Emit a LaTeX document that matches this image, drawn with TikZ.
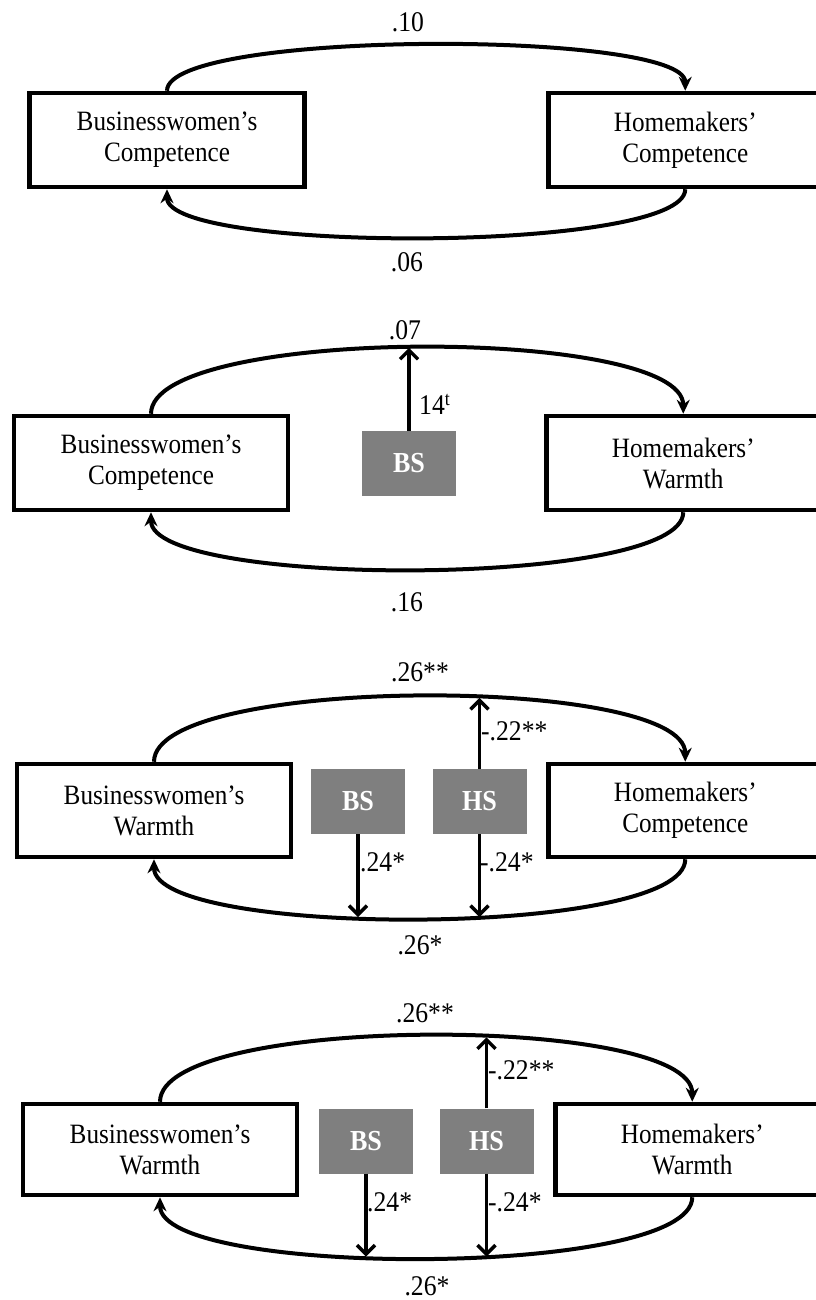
\documentclass[tikz,border=0pt]{standalone}
\usepackage{fontspec}
\setmainfont{Liberation Serif}[FakeStretch = 0.9]
\usepackage{xcolor}
\usepackage{tikz}
\usetikzlibrary{arrows.meta}

\definecolor{sxgray}{HTML}{7F7F7F}
\tikzset{
    trait/.style = {draw, line width = 4.5pt, minimum width = 274pt, minimum height = 93pt,
        inner sep = 0pt, align = center, font = \fontsize{28}{31}\selectfont},
    sexism/.style = {fill = sxgray, text = white, minimum width = 94pt, minimum height = 65pt,
        inner sep = 0pt, font = \fontsize{29}{32}\selectfont\bfseries},
    coef/.style = {inner sep = 0pt, font = \fontsize{28.5}{30}\selectfont},
    loop arc/.style = {line width = 4pt, -{Stealth[length = 14pt, width = 13pt]}},
    effect/.style = {line width = 3.5pt, -{Straight Barb[length = 9pt, width = 18pt]}}
}

\begin{document}
\begin{tikzpicture}[x = 1pt, y = -1pt]
        \useasboundingbox (0, 0) rectangle (815, 1300);

        \node[trait, minimum width = 275pt, minimum height = 94pt] (bc1) at (167, 140) {Businesswomen’s\\Competence};
        \node[trait, minimum height = 94pt, anchor = west] (hc1) at (546, 140) {Homemakers’\\Competence};
        \draw[loop arc] (bc1.north) .. controls +(0, -61) and +(0, -61) .. (hc1.north);
        \draw[loop arc] (hc1.south) .. controls +(0, 64) and +(0, 64) .. (bc1.south);
        \node[coef] (k1a) at (408, 22) {.10};
        \node[coef] (k1b) at (407, 262) {.06};

        \node[trait, minimum height = 94pt] (bc2) at (151, 463) {Businesswomen’s\\Competence};
        \node[trait, minimum height = 94pt, anchor = west] (hw2) at (544, 463) {Homemakers’\\Warmth};
        \draw[loop arc] (bc2.north) .. controls +(0, -88) and +(0, -88) .. coordinate[pos = 0.49] (top2) (hw2.north);
        \draw[loop arc] (hw2.south) .. controls +(0, 76) and +(0, 76) .. (bc2.south);
        \node[sexism] (bs2) at (409, 463.5) {BS};
        \draw[effect] (bs2.north) -- (bs2.north |- top2);
        \node[coef, anchor = west] (k2c) at (419, 404) {14\textsuperscript{t}};
        \node[coef] (k2a) at (405, 330) {.07};
        \node[coef] (k2b) at (407, 602) {.16};

        \node[trait] (bw3) at (154, 810.5) {Businesswomen’s\\Warmth};
        \node[trait, anchor = west] (hc3) at (546, 810.5) {Homemakers’\\Competence};
        \draw[loop arc] (bw3.north) .. controls +(0, -87) and +(0, -87) .. coordinate[pos = 0.575] (top3) (hc3.north);
        \draw[loop arc] (hc3.south) .. controls +(0, 79) and +(0, 79) .. coordinate[pos = 0.425] (hbot3) coordinate[pos = 0.577] (bbot3) (bw3.south);
        \node[sexism] (bs3) at (358, 801.5) {BS};
        \node[sexism] (hs3) at (479.5, 801.5) {HS};
        \draw[effect] (hs3.north) -- (hs3.north |- top3);
        \draw[effect] (hs3.south) -- (hs3.south |- hbot3);
        \draw[effect] (bs3.south) -- (bs3.south |- bbot3);
        \node[coef] (k3a) at (420, 672) {.26**};
        \node[coef, anchor = west] (k3c) at (481, 731) {-.22**};
        \node[coef, anchor = west] (k3d) at (360, 862) {.24*};
        \node[coef, anchor = west] (k3e) at (480, 862) {-.24*};
        \node[coef] (k3b) at (420, 945) {.26*};

        \node[trait, minimum height = 91pt] (bw4) at (160, 1149.5) {Businesswomen’s\\Warmth};
        \node[trait, minimum height = 91pt, anchor = west] (hw4) at (553, 1149.5) {Homemakers’\\Warmth};
        \draw[loop arc] (bw4.north) .. controls +(0, -88) and +(0, -88) .. coordinate[pos = 0.576] (top4) (hw4.north);
        \draw[loop arc] (hw4.south) .. controls +(0, 81) and +(0, 81) .. coordinate[pos = 0.425] (hbot4) coordinate[pos = 0.574] (bbot4) (bw4.south);
        \node[sexism] (bs4) at (366, 1141) {BS};
        \node[sexism] (hs4) at (486.5, 1141) {HS};
        \draw[effect] (hs4.north) -- (hs4.north |- top4);
        \draw[effect] (hs4.south) -- (hs4.south |- hbot4);
        \draw[effect] (bs4.south) -- (bs4.south |- bbot4);
        \node[coef] (k4a) at (425, 1013) {.26**};
        \node[coef, anchor = west] (k4c) at (488, 1070) {-.22**};
        \node[coef, anchor = west] (k4d) at (367, 1202) {.24*};
        \node[coef, anchor = west] (k4e) at (488, 1202) {-.24*};
        \node[coef] (k4b) at (427, 1286) {.26*};
    \end{tikzpicture}
\end{document}
